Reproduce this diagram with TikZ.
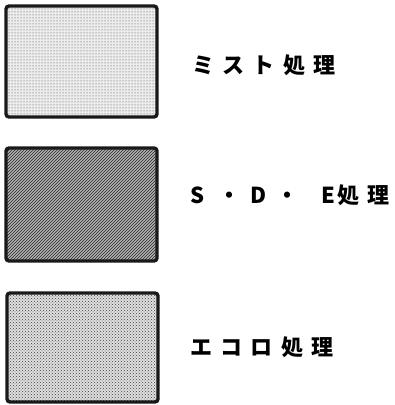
\documentclass[tikz,border=0pt]{standalone}
\usepackage{fontspec}
\newfontfamily\jp[LetterSpace=38]{Noto Sans CJK JP}
\newfontfamily\jpn{Noto Sans CJK JP}
\usetikzlibrary{patterns}
\tikzset{
  swatch/.style={draw=black!90, line width=3.4pt, rounded corners=3pt},
  lbl/.style={anchor=west, inner sep=0pt, font=\jp\bfseries\fontsize{22}{24}\selectfont}
}
\begin{document}
\begin{tikzpicture}[x=1pt,y=1pt]
\useasboundingbox (0,0) rectangle (395,405);
% mist
\fill[gray!15, rounded corners=3pt] (6,399) rectangle (157,288);
\fill[pattern=dots, pattern color=black!75] (7,398) rectangle (156,289);
\draw[swatch] (6,399) rectangle (157,288) node[pos=0.5] (b1) {};
% SDE
\fill[gray!60, rounded corners=3pt] (6,257) rectangle (157,144);
\fill[pattern=north east lines, pattern color=black!85] (7,256) rectangle (156,145);
\draw[swatch] (6,257) rectangle (157,144) node[pos=0.5] (b2) {};
% ecolo
\fill[gray!25, rounded corners=3pt] (7,112) rectangle (158,3);
\fill[pattern=crosshatch dots, pattern color=black!75] (8,111) rectangle (157,4);
\draw[swatch] (7,112) rectangle (158,3) node[pos=0.5] (b3) {};
% labels
\node[lbl] (t1) at (192,340) {ミスト処理};
\node[lbl] (t2) at (190,210) {{\jpn\bfseries\makebox[28pt][l]{S}\makebox[22pt][c]{・}\makebox[36pt][c]{D}\makebox[22pt][c]{・}\makebox[37pt][r]{E}\hspace{2pt}}処理};
\node[lbl] (t3) at (190,58) {エコロ処理};
\end{tikzpicture}
\end{document}
